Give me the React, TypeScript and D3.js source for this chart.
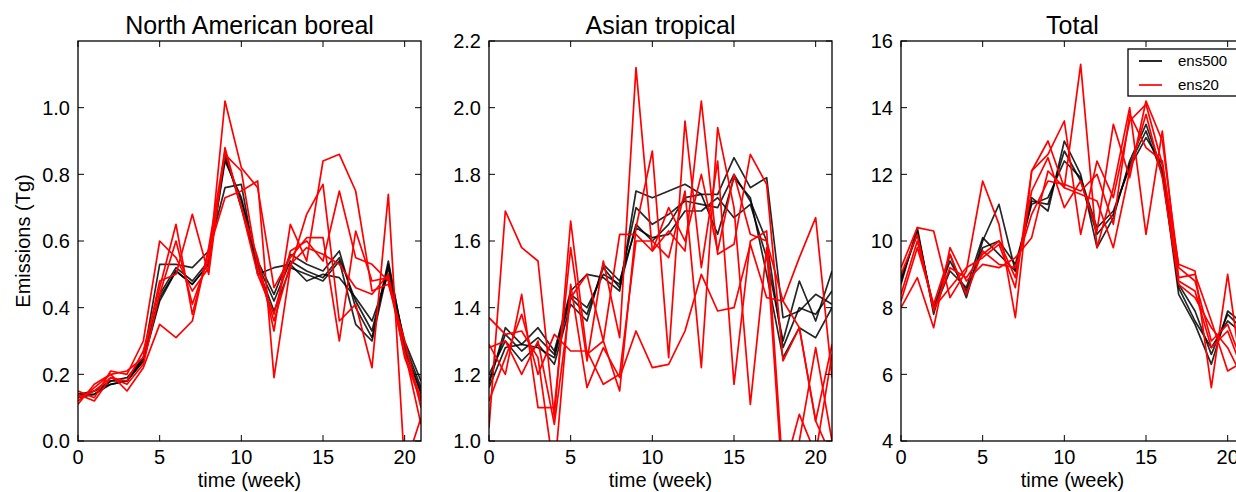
import React, { useEffect, useRef } from "react";
import * as d3 from "d3";

// x axis: week index
const weeks = [0, 1, 2, 3, 4, 5, 6, 7, 8, 9, 10, 11, 12, 13, 14, 15, 16, 17, 18, 19, 20, 21];

// North American boreal
const naTicks = [0, 0.2, 0.4, 0.6, 0.8, 1.0];
const naEns500 = [
  [0.13, 0.14, 0.17, 0.18, 0.24, 0.43, 0.51, 0.47, 0.53, 0.85, 0.72, 0.54, 0.44, 0.56, 0.53, 0.51, 0.57, 0.4, 0.31, 0.54, 0.28, 0.14],
  [0.14, 0.15, 0.18, 0.19, 0.25, 0.53, 0.53, 0.52, 0.57, 0.76, 0.77, 0.5, 0.52, 0.53, 0.48, 0.5, 0.49, 0.43, 0.36, 0.5, 0.3, 0.18],
  [0.13, 0.15, 0.17, 0.18, 0.25, 0.44, 0.52, 0.48, 0.54, 0.86, 0.7, 0.52, 0.39, 0.52, 0.5, 0.48, 0.54, 0.35, 0.3, 0.52, 0.27, 0.15],
  [0.14, 0.14, 0.18, 0.18, 0.24, 0.42, 0.51, 0.47, 0.53, 0.84, 0.73, 0.53, 0.42, 0.54, 0.51, 0.49, 0.55, 0.42, 0.33, 0.53, 0.29, 0.16],
];
const naEns20 = [
  [0.15, 0.13, 0.21, 0.2, 0.3, 0.6, 0.55, 0.45, 0.52, 1.02, 0.82, 0.76, 0.46, 0.55, 0.61, 0.61, 0.3, 0.63, 0.48, 0.49, 0.27, 0.05],
  [0.11, 0.17, 0.2, 0.15, 0.22, 0.35, 0.31, 0.36, 0.58, 0.87, 0.7, 0.55, 0.33, 0.65, 0.54, 0.84, 0.86, 0.75, 0.45, 0.47, 0.3, 0.1],
  [0.14, 0.12, 0.19, 0.18, 0.27, 0.46, 0.65, 0.38, 0.57, 0.73, 0.75, 0.78, 0.19, 0.52, 0.68, 0.77, 0.36, 0.41, 0.22, 0.74, -0.08, 0.07],
  [0.12, 0.16, 0.2, 0.21, 0.25, 0.48, 0.5, 0.68, 0.5, 0.88, 0.7, 0.5, 0.38, 0.57, 0.6, 0.54, 0.75, 0.55, 0.53, 0.48, 0.26, 0.13],
  [0.13, 0.15, 0.19, 0.17, 0.23, 0.44, 0.6, 0.41, 0.55, 0.86, 0.81, 0.52, 0.36, 0.53, 0.58, 0.56, 0.53, 0.46, 0.44, 0.5, 0.25, 0.12],
];

// Asian tropical
const asTicks = [1.0, 1.2, 1.4, 1.6, 1.8, 2.0, 2.2];
const asEns500 = [
  [1.17, 1.34, 1.29, 1.34, 1.27, 1.45, 1.5, 1.49, 1.45, 1.75, 1.73, 1.75, 1.77, 1.74, 1.74, 1.85, 1.76, 1.79, 1.37, 1.39, 1.44, 1.41],
  [1.2, 1.3, 1.24, 1.29, 1.23, 1.41, 1.36, 1.53, 1.48, 1.64, 1.61, 1.62, 1.69, 1.69, 1.73, 1.67, 1.71, 1.55, 1.3, 1.48, 1.36, 1.51],
  [1.16, 1.28, 1.29, 1.28, 1.25, 1.43, 1.38, 1.52, 1.46, 1.65, 1.6, 1.65, 1.73, 1.74, 1.62, 1.79, 1.73, 1.5, 1.25, 1.34, 1.31, 1.4],
  [1.18, 1.32, 1.27, 1.31, 1.26, 1.44, 1.4, 1.5, 1.47, 1.7, 1.65, 1.68, 1.72, 1.71, 1.7, 1.8, 1.72, 1.6, 1.28, 1.4, 1.38, 1.45],
];
const asEns20 = [
  [1.29, 1.2, 1.44, 1.1, 1.1, 1.58, 1.24, 1.54, 1.31, 2.12, 1.57, 1.63, 1.57, 2.02, 1.56, 1.59, 1.86, 1.77, 1.24, 1.34, 1.06, 0.95],
  [1.04, 1.69, 1.58, 1.54, 1.07, 1.66, 1.26, 1.3, 1.15, 1.64, 1.87, 1.25, 1.96, 1.52, 1.84, 1.17, 1.6, 1.63, 0.9, 1.08, 0.96, 1.26],
  [1.37, 1.32, 1.33, 1.25, 0.9, 1.47, 1.16, 1.28, 1.19, 1.33, 1.22, 1.23, 1.33, 1.5, 1.39, 1.4, 1.59, 1.43, 1.42, 1.55, 1.67, 1.19],
  [1.12, 1.25, 1.38, 1.2, 1.32, 1.27, 1.27, 1.17, 1.2, 1.6, 1.6, 1.55, 1.75, 1.22, 1.94, 1.7, 1.11, 1.58, 0.85, 1.0, 1.28, 1.0],
  [1.28, 1.3, 1.2, 1.3, 1.05, 1.43, 1.5, 1.3, 1.62, 1.62, 1.57, 1.7, 1.6, 1.8, 1.57, 1.8, 1.62, 1.6, 1.42, 1.34, 1.06, 1.29],
];

// Total
const totTicks = [4, 6, 8, 10, 12, 14, 16];
const totEns500 = [
  [8.7, 10.4, 7.8, 9.6, 8.3, 10.0, 11.1, 9.1, 11.3, 10.9, 13.0, 12.0, 9.8, 10.7, 12.4, 13.5, 12.1, 8.4, 7.5, 6.3, 7.9, 7.5],
  [8.9, 10.2, 8.0, 9.4, 8.5, 9.8, 10.0, 9.3, 11.1, 11.3, 12.4, 11.9, 10.4, 10.9, 12.2, 13.1, 12.3, 8.6, 7.6, 6.8, 7.6, 7.2],
  [8.8, 10.3, 7.9, 9.1, 8.6, 10.1, 9.6, 9.1, 11.2, 11.1, 12.7, 11.8, 10.2, 10.8, 12.3, 13.3, 12.0, 8.7, 7.9, 6.6, 7.8, 7.3],
];
const totEns20 = [
  [9.2, 10.4, 10.3, 8.3, 9.1, 11.8, 10.5, 7.7, 12.1, 12.6, 13.6, 10.2, 12.4, 11.3, 13.6, 14.1, 12.3, 9.3, 9.1, 5.6, 9.0, 5.5],
  [8.0, 8.9, 7.4, 9.8, 8.8, 9.3, 9.2, 9.5, 10.1, 12.1, 11.6, 15.3, 9.8, 11.6, 14.0, 10.2, 13.3, 8.9, 9.0, 7.6, 6.1, 6.4],
  [8.4, 10.0, 8.0, 8.6, 9.2, 9.5, 9.9, 8.6, 12.1, 13.0, 11.6, 11.4, 11.2, 9.8, 12.1, 13.8, 11.9, 8.7, 8.3, 7.4, 6.8, 5.8],
  [9.0, 10.2, 7.9, 9.2, 8.9, 9.6, 10.0, 8.9, 11.5, 12.5, 11.0, 11.8, 10.3, 13.5, 11.9, 14.2, 13.0, 9.2, 8.8, 7.0, 7.5, 6.2],
  [8.2, 9.8, 8.1, 9.6, 8.4, 9.7, 9.3, 9.2, 10.8, 11.8, 11.7, 11.5, 12.0, 10.5, 13.8, 12.8, 12.4, 8.8, 8.5, 6.8, 7.3, 6.0],
];

const xTicks = [0, 5, 10, 15, 20];

const panels = [
  { title: "North American boreal", yDomain: [0, 1.2], yTicks: naTicks, fmt: ".1f", ens500: naEns500, ens20: naEns20 },
  { title: "Asian tropical", yDomain: [1.0, 2.2], yTicks: asTicks, fmt: ".1f", ens500: asEns500, ens20: asEns20 },
  { title: "Total", yDomain: [4, 16], yTicks: totTicks, fmt: "d", ens500: totEns500, ens20: totEns20 },
];

const W = 1236;
const H = 492;
const top = 41;
const bottom = 441;
const lefts = [78, 489, 901];
const pw = 343;
const font = "'Liberation Sans', Arial, sans-serif";

export default function App() {
  const ref = useRef<SVGSVGElement>(null);

  useEffect(() => {
    const svg = d3.select(ref.current);
    svg.selectAll("*").remove();

    panels.forEach((p, i) => {
      const x0 = lefts[i];
      const x = d3.scaleLinear().domain([0, 21]).range([x0, x0 + pw]);
      const y = d3.scaleLinear().domain(p.yDomain).range([bottom, top]);
      const g = svg.append("g");

      // clip for lines
      const clipId = `clip${i}`;
      svg
        .append("clipPath")
        .attr("id", clipId)
        .append("rect")
        .attr("x", x0)
        .attr("y", top)
        .attr("width", pw)
        .attr("height", bottom - top);

      const line = d3
        .line<number>()
        .x((d, j) => x(weeks[j]))
        .y((d) => y(d));

      const lines = g.append("g").attr("clip-path", `url(#${clipId})`);
      p.ens500.forEach((s) => {
        lines
          .append("path")
          .datum(s)
          .attr("fill", "none")
          .attr("stroke", "#000")
          .attr("stroke-width", 1.7)
          .attr("stroke-opacity", 0.85)
          .attr("stroke-linejoin", "round")
          .attr("d", line);
      });
      p.ens20.forEach((s) => {
        lines
          .append("path")
          .datum(s)
          .attr("fill", "none")
          .attr("stroke", "#ff0000")
          .attr("stroke-width", 1.7)
          .attr("stroke-linejoin", "round")
          .attr("d", line);
      });

      // ticks inside on all four sides
      const tl = 6;
      xTicks.forEach((t) => {
        g.append("line").attr("x1", x(t)).attr("x2", x(t)).attr("y1", bottom).attr("y2", bottom - tl).attr("stroke", "#000");
        g.append("line").attr("x1", x(t)).attr("x2", x(t)).attr("y1", top).attr("y2", top + tl).attr("stroke", "#000");
        g.append("text")
          .attr("x", x(t))
          .attr("y", 464)
          .attr("text-anchor", "middle")
          .style("font-family", font)
          .style("font-size", "20px")
          .text(t);
      });
      const yf = d3.format(p.fmt);
      p.yTicks.forEach((t) => {
        g.append("line").attr("x1", x0).attr("x2", x0 + tl).attr("y1", y(t)).attr("y2", y(t)).attr("stroke", "#000");
        g.append("line").attr("x1", x0 + pw).attr("x2", x0 + pw - tl).attr("y1", y(t)).attr("y2", y(t)).attr("stroke", "#000");
        g.append("text")
          .attr("x", x0 - 8)
          .attr("y", y(t))
          .attr("dy", "0.36em")
          .attr("text-anchor", "end")
          .style("font-family", font)
          .style("font-size", "20px")
          .text(yf(t));
      });

      // frame
      g.append("rect")
        .attr("x", x0)
        .attr("y", top)
        .attr("width", pw)
        .attr("height", bottom - top)
        .attr("fill", "none")
        .attr("stroke", "#000")
        .attr("stroke-width", 1.3);

      // title
      g.append("text")
        .attr("x", x0 + pw / 2)
        .attr("y", 34)
        .attr("text-anchor", "middle")
        .style("font-family", font)
        .style("font-size", "25px")
        .text(p.title);

      // x label
      g.append("text")
        .attr("x", x0 + pw / 2)
        .attr("y", 487)
        .attr("text-anchor", "middle")
        .style("font-family", font)
        .style("font-size", "20px")
        .text("time (week)");

      if (i === 0) {
        g.append("text")
          .attr("transform", `translate(30, ${(top + bottom) / 2}) rotate(-90)`)
          .attr("text-anchor", "middle")
          .style("font-family", font)
          .style("font-size", "20px")
          .text("Emissions (Tg)");
      }

      if (i === 2) {
        // legend, upper right
        const lg = g.append("g");
        lg.append("rect")
          .attr("x", 1128)
          .attr("y", 49)
          .attr("width", 109)
          .attr("height", 47)
          .attr("fill", "#fff")
          .attr("stroke", "#000")
          .attr("stroke-width", 1.3);
        [
          { label: "ens500", color: "#000", yy: 61 },
          { label: "ens20", color: "#ff0000", yy: 85 },
        ].forEach((e) => {
          lg.append("line").attr("x1", 1139).attr("x2", 1162).attr("y1", e.yy).attr("y2", e.yy).attr("stroke", e.color).attr("stroke-width", 1.7);
          lg.append("text")
            .attr("x", 1178)
            .attr("y", e.yy)
            .attr("dy", "0.36em")
            .style("font-family", font)
            .style("font-size", "15px")
            .text(e.label);
        });
      }
    });
  }, []);

  return (
    <svg
      ref={ref}
      width={W}
      height={H}
      style={{ position: "absolute", left: 0, top: 0, background: "#fff" }}
    />
  );
}
